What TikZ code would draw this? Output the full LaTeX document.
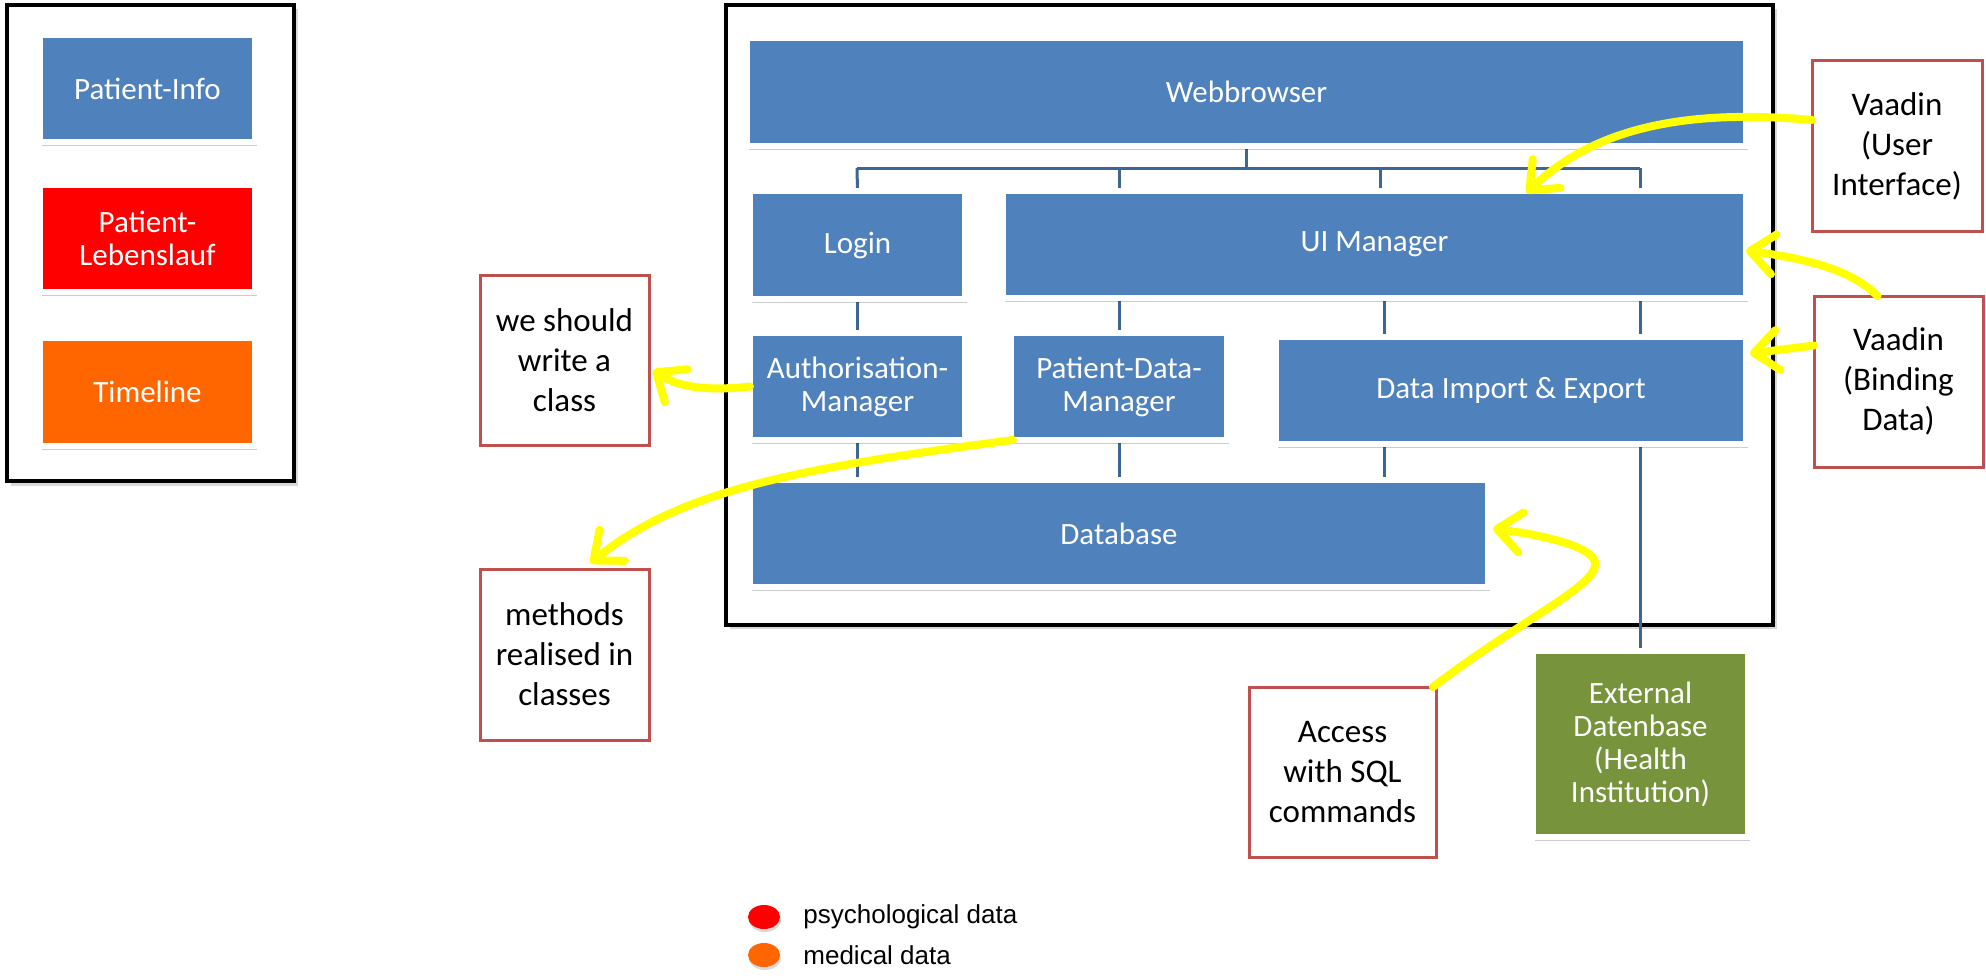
\documentclass[tikz,border=0pt]{standalone}
\usepackage{fontspec}
\setmainfont{Carlito}
\newfontfamily\arialf{Liberation Sans}
\usetikzlibrary{arrows.meta,shadows,calc,shapes.geometric}
\definecolor{boxblue}{HTML}{4F81BD}
\definecolor{treeblue}{HTML}{3D6695}
\definecolor{notered}{HTML}{C0504D}
\definecolor{extgreen}{HTML}{77933C}
\definecolor{tlorange}{HTML}{FF6600}
\definecolor{tlred}{HTML}{FF0000}
\definecolor{hlyellow}{HTML}{FFFF00}
\pgfdeclarelayer{bottom}
\pgfdeclarelayer{background}
\pgfsetlayers{bottom,background,main}
\newcommand\pbox[7]{\node[#1, minimum width={(#5-#3)*0.5pt+3pt}, minimum height={(#6-#4)*0.5pt+3pt}] (#2) at ({(#3+#5)/2},{(#4+#6)/2}) {#7};}
\newcommand\nbox[7]{\node[#1, minimum width={(#5-#3)*0.5pt}, minimum height={(#6-#4)*0.5pt}] (#2) at ({(#3+#5)/2},{(#4+#6)/2}) {#7};}
\begin{document}
\begin{tikzpicture}[x=0.5pt,y=-0.5pt,
  bfont/.style={font=\fontsize{15.5}{16.5}\selectfont},
  cbox/.style={fill=boxblue, draw=white, line width=3pt, inner sep=0pt, outer sep=0pt, text=white, align=center, bfont,
    drop shadow={shadow xshift=0.8pt, shadow yshift=-2.2pt, opacity=0.2, fill=black}},
  notebox/.style={fill=white, draw=notered, line width=1.5pt, inner sep=0pt, outer sep=0pt, text=black, align=center,
    font=\fontsize{16.5}{20}\selectfont},
  frame/.style={draw=black, line width=1.6pt},
  tree/.style={draw=treeblue, line width=1.5pt},
  yarrow/.style={draw=hlyellow, line width=4pt, line cap=round, -{Straight Barb[length=12pt,width=20pt,round]}}
]
\useasboundingbox (0,0) rectangle (1986,979);

% frames
\begin{pgfonlayer}{bottom}
\fill[black!15] (11,9) rectangle (298,486);
\draw[frame, fill=white] (7,5) rectangle (294,481);
\fill[black!15] (730,9) rectangle (1777,629);
\draw[frame, fill=white] (726,5) rectangle (1773,625);
\end{pgfonlayer}

% left panel
\pbox{cbox}{pinfo}{43}{38}{252}{139}{Patient-Info}
\pbox{cbox, fill=tlred}{plebens}{43}{188}{252}{289}{Patient-\\Lebenslauf}
\pbox{cbox, fill=tlorange}{tline}{43}{341}{252}{443}{Timeline}

% main boxes
\pbox{cbox}{web}{750}{41}{1743}{143}{Webbrowser}
\pbox{cbox}{login}{753}{194}{962}{296}{Login}
\pbox{cbox}{ui}{1006}{194}{1743}{295}{UI Manager}
\pbox{cbox}{auth}{753}{336}{962}{437}{Authorisation-\\Manager}
\pbox{cbox}{pdm}{1014}{336}{1224}{437}{Patient-Data-\\Manager}
\pbox{cbox}{die}{1279}{340}{1743}{441}{Data Import \& Export}
\pbox{cbox}{db}{753}{483}{1485}{584}{Database}
\pbox{cbox, fill=extgreen}{ext}{1536}{654}{1745}{834}{External\\Datenbase\\(Health\\Institution)}

% tree connectors
\coordinate (busL) at (857,168);
\coordinate (busR) at (1640,168);
\begin{pgfonlayer}{background}
\draw[tree] (web.south) -- (web.south |- busL);
\draw[tree] (busL) -- (busR);
\draw[tree] (busL) -- (login.north);
\draw[tree] (busL -| pdm.north) -- (ui.north -| pdm.north);
\draw[tree] (1380,168) -- (1380,191);
\draw[tree] (busR) -- (busR |- ui.north);
\draw[tree] (login.south) -- (auth.north);
\draw[tree] (ui.south -| pdm.north) -- (pdm.north);
\draw[tree] (ui.south -| 1384,0) -- (die.north -| 1384,0);
\draw[tree] (ext.north |- ui.south) -- (ext.north);
\draw[tree] (auth.south) -- (auth.south |- db.north);
\draw[tree] (pdm.south) -- (pdm.south |- db.north);
\draw[tree] (die.south -| 1384,0) -- (db.north -| 1384,0);
\end{pgfonlayer}

% notes
\nbox{notebox}{n1}{480}{275}{649}{445}{we should\\write a\\class}
\nbox{notebox}{n2}{480}{569}{649}{740}{methods\\realised in\\classes}
\nbox{notebox}{sql}{1249}{687}{1436}{857}{Access\\with SQL\\commands}
\nbox{notebox}{vui}{1812}{61}{1982}{231}{Vaadin\\(User\\Interface)}
\nbox{notebox}{vbd}{1814}{296}{1983}{467}{Vaadin\\(Binding\\Data)}

% yellow arrows
\draw[yarrow] ($(vui.west)+(0,-26)$) .. controls (1700,110) and (1600,122) .. ($(ui.north)+(152,2)$);
\draw[yarrow] ($(vbd.north)+(-21,0)$) .. controls (1850,268) and (1800,258) .. ($(ui.east)+(0,6)$);
\draw[yarrow] ($(vbd.west)+(0,-36)$) -- ($(die.east)+(4,-37)$);
\draw[yarrow] (auth.west) .. controls (700,392) and (675,385) .. ($(n1.east)+(4,10)$);
\draw[yarrow] ($(pdm.south west)+(2,0)$) .. controls (800,468) and (680,490) .. ($(n2.north)+(26,-6)$);
\draw[yarrow] ($(sql.north east)+(-3,0)$) .. controls (1520,620) and (1600,585) .. (1595,562) .. controls (1590,545) and (1540,535) .. ($(db.east)+(5,-5)$);

% legend
\node[ellipse, fill=tlred, minimum width=16pt, minimum height=12pt, inner sep=0pt, drop shadow={shadow xshift=0.5pt, shadow yshift=-1.5pt, opacity=0.3}] (lg1) at (764,917) {};
\node[ellipse, fill=tlorange, minimum width=16pt, minimum height=12pt, inner sep=0pt, drop shadow={shadow xshift=0.5pt, shadow yshift=-1.5pt, opacity=0.3}] (lg2) at (764,955) {};
\node[anchor=west, inner sep=0pt, font=\arialf\fontsize{13}{15}\selectfont] (lt1) at (803,917) {psychological data};
\node[anchor=west, inner sep=0pt, font=\arialf\fontsize{13}{15}\selectfont] (lt2) at (803,955) {medical data};
\end{tikzpicture}
\end{document}
